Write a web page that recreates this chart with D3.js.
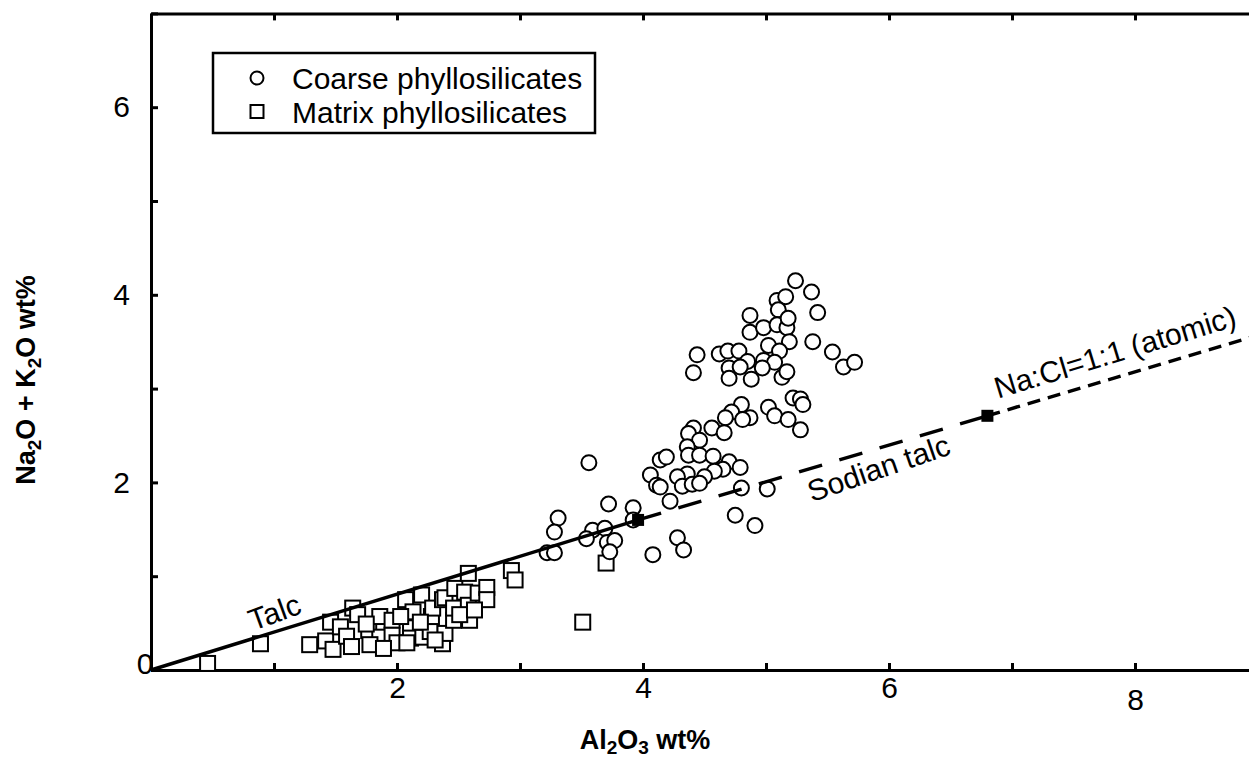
<!DOCTYPE html>
<html>
<head>
<meta charset="utf-8">
<script src="https://cdn.jsdelivr.net/npm/d3@7"></script>
<style>
  body { margin: 0; background: #fff; }
  svg { display: block; font-family: "Liberation Sans", Arial, sans-serif; }
</style>
</head>
<body>
<div id="chart"></div>
<script>
// Coarse phyllosilicates (circles): Al2O3 wt% and Na2O + K2O wt%
var coarseAl = [5.24, 5.37, 5.42, 5.09, 5.16, 5.10, 4.87, 4.87, 4.98, 5.09, 5.17, 5.18, 5.19, 5.02, 5.11,
  5.38, 5.54, 5.63, 5.72, 4.44, 4.41, 4.62, 4.69, 4.78, 4.85, 4.70, 4.79, 4.70, 4.88, 4.98, 5.07, 4.97,
  5.13, 5.17, 4.80, 4.72, 4.87, 4.67, 4.81, 4.56, 4.66, 4.41, 4.37, 4.46, 4.36, 4.37, 4.46, 4.57, 4.70,
  4.79, 4.65, 4.58, 4.50, 4.36, 4.28, 4.32, 4.40, 4.46, 4.14, 4.19, 4.06, 4.11, 4.14, 4.22, 3.56, 3.72,
  3.92, 4.80, 4.75, 4.91, 5.22, 5.28, 5.30, 5.02, 5.07, 5.18, 5.28, 5.01, 3.31, 3.28, 3.59, 3.54, 3.69,
  3.71, 3.77, 3.73, 3.22, 3.28, 3.92, 4.08, 4.28, 4.33];
var coarseAlk = [4.15, 4.03, 3.81, 3.94, 3.98, 3.84, 3.78, 3.60, 3.65, 3.68, 3.65, 3.75, 3.50, 3.46, 3.40,
  3.50, 3.39, 3.23, 3.28, 3.36, 3.17, 3.37, 3.40, 3.40, 3.29, 3.22, 3.23, 3.11, 3.10, 3.30, 3.28, 3.22,
  3.12, 3.18, 2.83, 2.75, 2.69, 2.69, 2.67, 2.58, 2.53, 2.58, 2.52, 2.45, 2.38, 2.29, 2.29, 2.28, 2.22,
  2.16, 2.14, 2.12, 2.06, 2.09, 2.06, 1.96, 1.98, 1.99, 2.24, 2.27, 2.08, 1.97, 1.95, 1.80, 2.21, 1.77,
  1.73, 1.94, 1.65, 1.54, 2.90, 2.89, 2.83, 2.80, 2.71, 2.67, 2.56, 1.93, 1.62, 1.47, 1.49, 1.40, 1.51,
  1.36, 1.38, 1.26, 1.25, 1.25, 1.60, 1.23, 1.41, 1.28];

// Matrix phyllosilicates (squares)
var matrixAl = [0.46, 0.89, 1.29, 1.42, 1.48, 1.46, 1.54, 1.59, 1.63, 1.64, 1.68, 1.77, 1.86, 1.86, 1.96,
  1.96, 2.00, 2.07, 2.11, 2.11, 2.13, 2.20, 2.21, 2.27, 2.28, 2.29, 2.37, 2.39, 2.37, 2.39, 2.46, 2.47,
  2.46, 2.55, 2.58, 2.58, 2.59, 2.66, 2.73, 2.73, 2.93, 2.96, 3.51, 3.70, 1.78, 1.89, 2.08, 2.03, 1.75,
  2.19, 2.51, 2.63, 2.31];
var matrixAlk = [0.07, 0.28, 0.27, 0.31, 0.22, 0.51, 0.46, 0.36, 0.25, 0.66, 0.59, 0.42, 0.57, 0.35, 0.53,
  0.37, 0.29, 0.75, 0.45, 0.34, 0.62, 0.80, 0.35, 0.41, 0.57, 0.66, 0.75, 0.77, 0.28, 0.39, 0.53, 0.87,
  0.66, 0.83, 1.03, 0.69, 0.53, 0.82, 0.88, 0.75, 1.06, 0.96, 0.51, 1.14, 0.27, 0.23, 0.29, 0.57, 0.49,
  0.51, 0.59, 0.64, 0.32];

// reference lines: talc, sodian talc, Na:Cl = 1:1
var talcLine = [[0, 0], [3.96, 1.6]];
var sodianLine = [[3.96, 1.6], [6.8, 2.71]];
var naclLine = [[6.8, 2.71], [10, 3.96]];
var lineEnds = [[3.96, 1.6], [6.8, 2.71]];

var xTickValues = [0, 1, 2, 3, 4, 5, 6, 7, 8, 9, 10];
var yTickValues = [0, 1, 2, 3, 4, 5, 6, 7];
var xTickLabels = [2, 4, 6, 8];
var yTickLabels = [2, 4, 6];

var Width = 1249;
var Height = 759;

var svg = d3.select("#chart")
  .append("svg")
  .attr("width", Width)
  .attr("height", Height);

var xScale = d3.scaleLinear().domain([0, 10]).range([151, 1381]);
var yScale = d3.scaleLinear().domain([0, 7]).range([670, 13.4]);

function labelX(d) { return xTickLabels.indexOf(d) >= 0 ? d : ""; }
function labelY(d) { return yTickLabels.indexOf(d) >= 0 ? d : ""; }

// axes (ticks point inward)
var xAxis = d3.axisBottom(xScale).tickValues(xTickValues).tickSize(-7).tickSizeOuter(0)
  .tickPadding(7).tickFormat(labelX);
var yAxis = d3.axisLeft(yScale).tickValues(yTickValues).tickSize(-7).tickSizeOuter(0)
  .tickPadding(21).tickFormat(labelY);
var topAxis = d3.axisTop(xScale).tickValues(xTickValues).tickSize(-7).tickSizeOuter(0)
  .tickFormat("");
var rightAxis = d3.axisRight(yScale).tickValues(yTickValues).tickSize(-7).tickSizeOuter(0)
  .tickFormat("");

var gx = svg.append("g").attr("transform", "translate(0," + yScale(0) + ")").call(xAxis);
var gy = svg.append("g").attr("transform", "translate(" + xScale(0) + ",0)").call(yAxis);
var gt = svg.append("g").attr("transform", "translate(0," + yScale(7) + ")").call(topAxis);
var gr = svg.append("g").attr("transform", "translate(" + xScale(10) + ",0)").call(rightAxis);

[gx, gy, gt, gr].forEach(function(g) {
  g.selectAll("path, line").attr("stroke", "#000").attr("stroke-width", 3);
  g.selectAll("text").attr("fill", "#000").attr("font-size", 30)
    .attr("font-family", "'Liberation Sans', Arial, sans-serif");
});
// the 8 sits a little lower in the original
gx.selectAll(".tick text").filter(function(d) { return d === 8; }).attr("y", 19);

// shared origin label
svg.append("text")
  .attr("x", xScale(0) - 6)
  .attr("y", yScale(0) + 4)
  .attr("text-anchor", "middle")
  .attr("font-size", 30)
  .text("0");

// squares
var sq = 15;
svg.append("g").selectAll("rect")
  .data(d3.range(matrixAl.length))
  .enter()
  .append("rect")
  .attr("x", function(i) { return xScale(matrixAl[i]) - sq / 2; })
  .attr("y", function(i) { return yScale(matrixAlk[i]) - sq / 2; })
  .attr("width", sq)
  .attr("height", sq)
  .attr("fill", "#fff")
  .attr("stroke", "#000")
  .attr("stroke-width", 2);

// circles
svg.append("g").selectAll("circle")
  .data(d3.range(coarseAl.length))
  .enter()
  .append("circle")
  .attr("cx", function(i) { return xScale(coarseAl[i]); })
  .attr("cy", function(i) { return yScale(coarseAlk[i]); })
  .attr("r", 7.5)
  .attr("fill", "#fff")
  .attr("stroke", "#000")
  .attr("stroke-width", 2);

// lines
var line = d3.line()
  .x(function(d) { return xScale(d[0]); })
  .y(function(d) { return yScale(d[1]); });

svg.append("path").datum(talcLine).attr("d", line)
  .attr("fill", "none").attr("stroke", "#000").attr("stroke-width", 3.5);
svg.append("path").datum(sodianLine).attr("d", line)
  .attr("fill", "none").attr("stroke", "#000").attr("stroke-width", 3.5)
  .attr("stroke-dasharray", "24,18");
svg.append("path").datum(naclLine).attr("d", line)
  .attr("fill", "none").attr("stroke", "#000").attr("stroke-width", 3.5)
  .attr("stroke-dasharray", "13,8");

svg.append("g").selectAll("rect")
  .data(lineEnds)
  .enter()
  .append("rect")
  .attr("x", function(d) { return xScale(d[0]) - 6; })
  .attr("y", function(d) { return yScale(d[1]) - 6; })
  .attr("width", 12)
  .attr("height", 12)
  .attr("fill", "#000");

// line labels
function lineLabel(txt, px, py, angle) {
  svg.append("text")
    .attr("transform", "translate(" + px + "," + py + ") rotate(" + angle + ")")
    .attr("text-anchor", "middle")
    .attr("font-size", 30)
    .text(txt);
}
lineLabel("Talc", 278, 622, -20);
lineLabel("Sodian talc", 882, 478, -19);
lineLabel("Na:Cl=1:1 (atomic)", 1118, 362, -17);

// legend
var legend = svg.append("g");
legend.append("rect")
  .attr("x", 213).attr("y", 53).attr("width", 382).attr("height", 80)
  .attr("fill", "#fff").attr("stroke", "#000").attr("stroke-width", 2.5);
legend.append("circle")
  .attr("cx", 257).attr("cy", 78).attr("r", 6.5)
  .attr("fill", "#fff").attr("stroke", "#000").attr("stroke-width", 2);
legend.append("rect")
  .attr("x", 250.5).attr("y", 105).attr("width", 13).attr("height", 13)
  .attr("fill", "#fff").attr("stroke", "#000").attr("stroke-width", 2);
legend.append("text").attr("x", 292).attr("y", 89).attr("font-size", 30)
  .text("Coarse phyllosilicates");
legend.append("text").attr("x", 292).attr("y", 123).attr("font-size", 30)
  .text("Matrix phyllosilicates");

// axis titles
var xTitle = svg.append("text")
  .attr("x", 645).attr("y", 749)
  .attr("text-anchor", "middle")
  .attr("font-size", 27)
  .attr("font-weight", "bold");
xTitle.append("tspan").text("Al");
xTitle.append("tspan").attr("font-size", 19).attr("dy", 5).text("2");
xTitle.append("tspan").attr("dy", -5).text("O");
xTitle.append("tspan").attr("font-size", 19).attr("dy", 5).text("3");
xTitle.append("tspan").attr("dy", -5).text(" wt%");

var yTitle = svg.append("text")
  .attr("transform", "translate(35,380) rotate(-90)")
  .attr("text-anchor", "middle")
  .attr("font-size", 27)
  .attr("font-weight", "bold");
yTitle.append("tspan").text("Na");
yTitle.append("tspan").attr("font-size", 19).attr("dy", 6).text("2");
yTitle.append("tspan").attr("dy", -6).text("O + K");
yTitle.append("tspan").attr("font-size", 19).attr("dy", 6).text("2");
yTitle.append("tspan").attr("dy", -6).text("O wt%");
</script>
</body>
</html>
